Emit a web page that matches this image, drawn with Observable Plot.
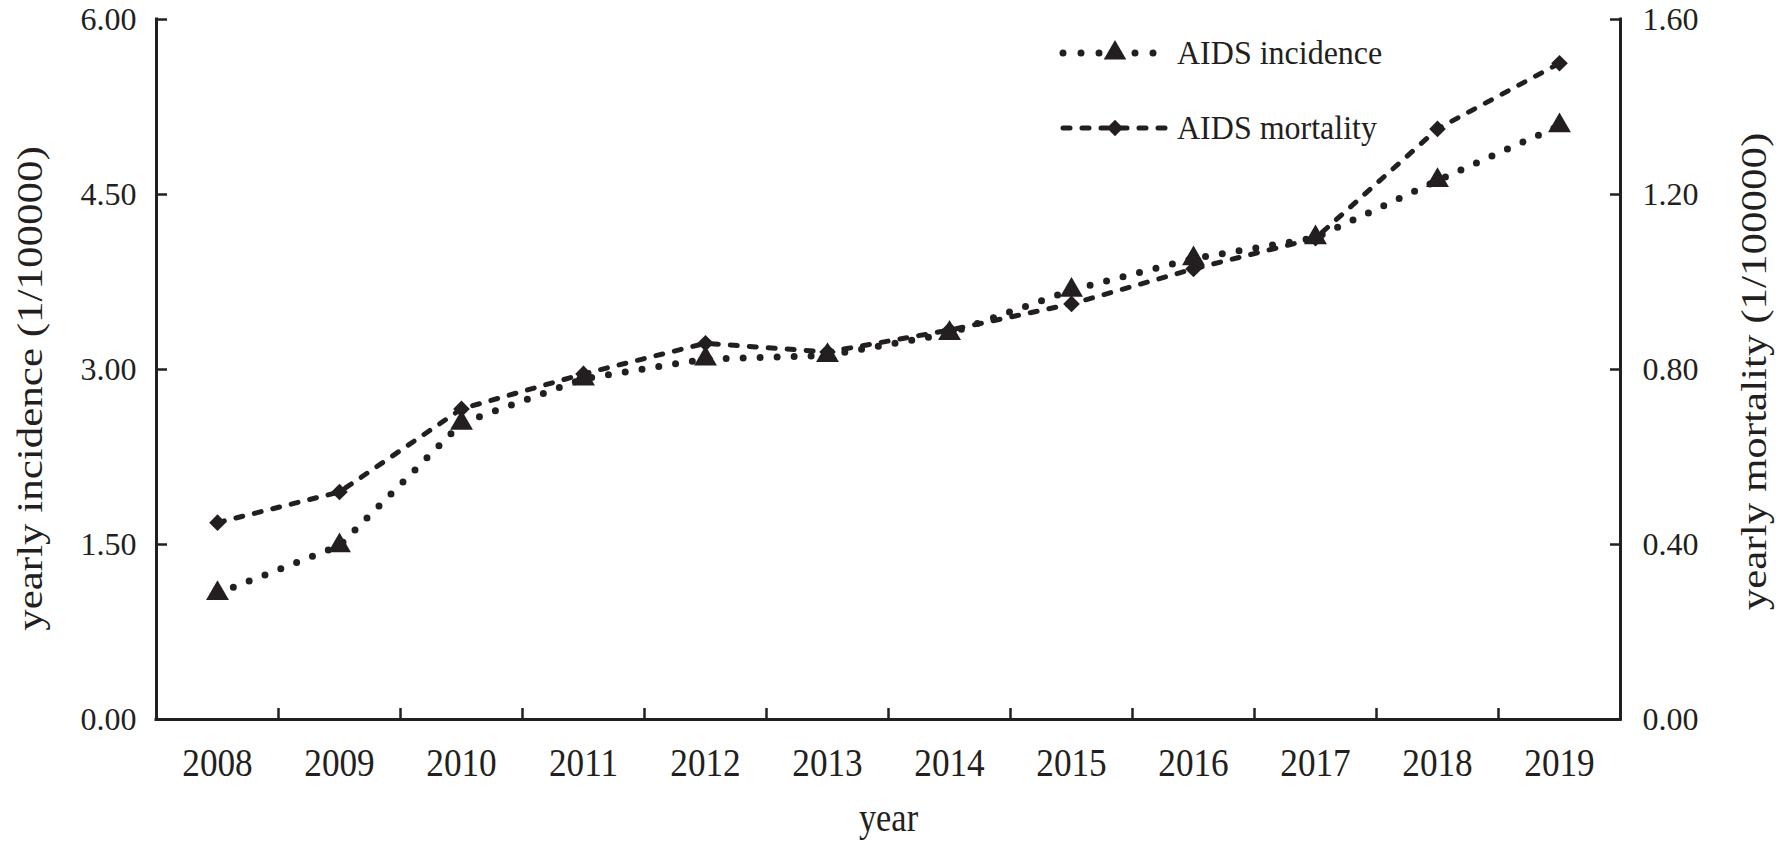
<!DOCTYPE html>
<html><head><meta charset="utf-8">
<script src="https://cdn.jsdelivr.net/npm/d3@7"></script>
<script src="https://cdn.jsdelivr.net/npm/@observablehq/plot@0.6"></script>
<style>
body{margin:0;background:#fff;}
#wrap{position:relative;width:1776px;height:842px;font-family:"Liberation Serif","Times New Roman",serif;}
#legend{position:absolute;left:1050px;top:20px;}
</style></head><body><div id="wrap"></div>
<script>
const years = [2008,2009,2010,2011,2012,2013,2014,2015,2016,2017,2018,2019];
const incidence = [1.08,1.49,2.54,2.92,3.09,3.12,3.31,3.68,3.95,4.13,4.62,5.09];
const mortality = [0.45,0.52,0.71,0.79,0.86,0.84,0.89,0.95,1.03,1.10,1.35,1.50];
const leftTicks = [0,1.5,3,4.5,6];
const rightTicks = [0,0.4,0.8,1.2,1.6];
const seriesNames = ["AIDS incidence","AIDS mortality"];
const leftTitle = "yearly incidence (1/100000)";
const rightTitle = "yearly mortality (1/100000)";
const xTitle = "year";

const ink = "#231f20";
const ratio = d3.max(leftTicks) / d3.max(rightTicks);
const incData = years.map((year,i)=>({year, value: incidence[i]}));
const morData = years.map((year,i)=>({year, value: mortality[i]*ratio}));
const xDomain = [d3.min(years)-0.5, d3.max(years)+0.5];
const boundaries = years.slice(1).map(y=>y-0.5);

const chart = Plot.plot({
  width:1776, height:842, marginLeft:156, marginRight:156, marginTop:19, marginBottom:123,
  style:{fontFamily:"'Liberation Serif', 'Times New Roman', serif", color: ink, background:"#fff"},
  x:{domain:xDomain, label:null},
  y:{domain:[0, d3.max(leftTicks)], label:null},
  marks:[
    Plot.axisX(years, {tickSize:0, tickPadding:27, tickFormat:d=>String(d), fontSize:41, label:null, fill:ink}),
    Plot.axisX(boundaries, {tickSize:-11, tickFormat:()=>"", strokeWidth:2.5, stroke:ink, label:null}),
    Plot.axisY(leftTicks, {anchor:"left", tickSize:-11, tickPadding:31, tickFormat:d3.format(".2f"), fontSize:32, strokeWidth:2.5, stroke:ink, fill:ink, label:null}),
    Plot.axisY(rightTicks.map(v=>v*ratio), {anchor:"right", tickSize:-11, tickPadding:33, tickFormat:d=>(d/ratio).toFixed(2), fontSize:32, strokeWidth:2.5, stroke:ink, fill:ink, label:null}),
    Plot.ruleX(xDomain, {stroke:ink, strokeWidth:3, strokeLinecap:"square"}),
    Plot.ruleY([0], {stroke:ink, strokeWidth:3, strokeLinecap:"square"}),
    Plot.line(morData, {x:"year", y:"value", stroke:ink, strokeWidth:5, strokeDasharray:"7,12", strokeLinecap:"round"}),
    Plot.line(incData, {x:"year", y:"value", stroke:ink, strokeWidth:7, strokeDasharray:"0,17", strokeLinecap:"round"}),
    Plot.dot(morData, {x:"year", y:"value", symbol:"diamond2", r:7.5, fill:ink}),
    Plot.dot(incData, {x:"year", y:"value", symbol:"triangle", r:8.5, fill:ink}),
    Plot.text([leftTitle], {text:d=>d, frameAnchor:"left", textAnchor:"middle", lineAnchor:"middle", rotate:-90, dx:-126, dy:19, fontSize:43, fill:ink}),
    Plot.text([rightTitle], {text:d=>d, frameAnchor:"right", textAnchor:"middle", lineAnchor:"middle", rotate:-90, dx:134, dy:2, fontSize:43, fill:ink}),
    Plot.text([xTitle], {text:d=>d, frameAnchor:"bottom", textAnchor:"middle", lineAnchor:"middle", dy:99, fontSize:40, fill:ink})
  ]
});
// the reference typography is horizontally narrowed; mimic that
d3.select(chart).selectAll('g[aria-label="x-axis tick label"] text, g[aria-label="text"] text').each(function(){
  const t = this.getAttribute("transform") || "";
  this.setAttribute("transform", t + (t.includes("rotate") ? " scale(1,0.85)" : " scale(0.86,1)"));
});
document.getElementById("wrap").appendChild(chart);

// legend overlay
const leg = d3.select("#wrap").append("svg").attr("id","legend").attr("width",400).attr("height",140);
const rows = [
  {name: seriesNames[0], y: 33, dash:"0,18", sw:7, x2:105, sym:d3.symbolTriangle, size:220},
  {name: seriesNames[1], y: 108, dash:"7,12", sw:5, x2:117, sym:d3.symbolDiamond2, size:170}
];
rows.forEach(r=>{
  leg.append("line").attr("x1",13).attr("x2",r.x2).attr("y1",r.y).attr("y2",r.y)
    .attr("stroke",ink).attr("stroke-width",r.sw).attr("stroke-dasharray",r.dash).attr("stroke-linecap","round");
  leg.append("path").attr("d", d3.symbol(r.sym, r.size)()).attr("transform",`translate(65,${r.y})`).attr("fill",ink);
  leg.append("text").attr("x",127).attr("y",r.y).attr("dy","0.32em").attr("font-size",33)
    .attr("font-family","'Liberation Serif', 'Times New Roman', serif").attr("fill",ink)
    .attr("transform","translate(127,0) scale(0.97,1) translate(-127,0)").text(r.name);
});
</script></body></html>
